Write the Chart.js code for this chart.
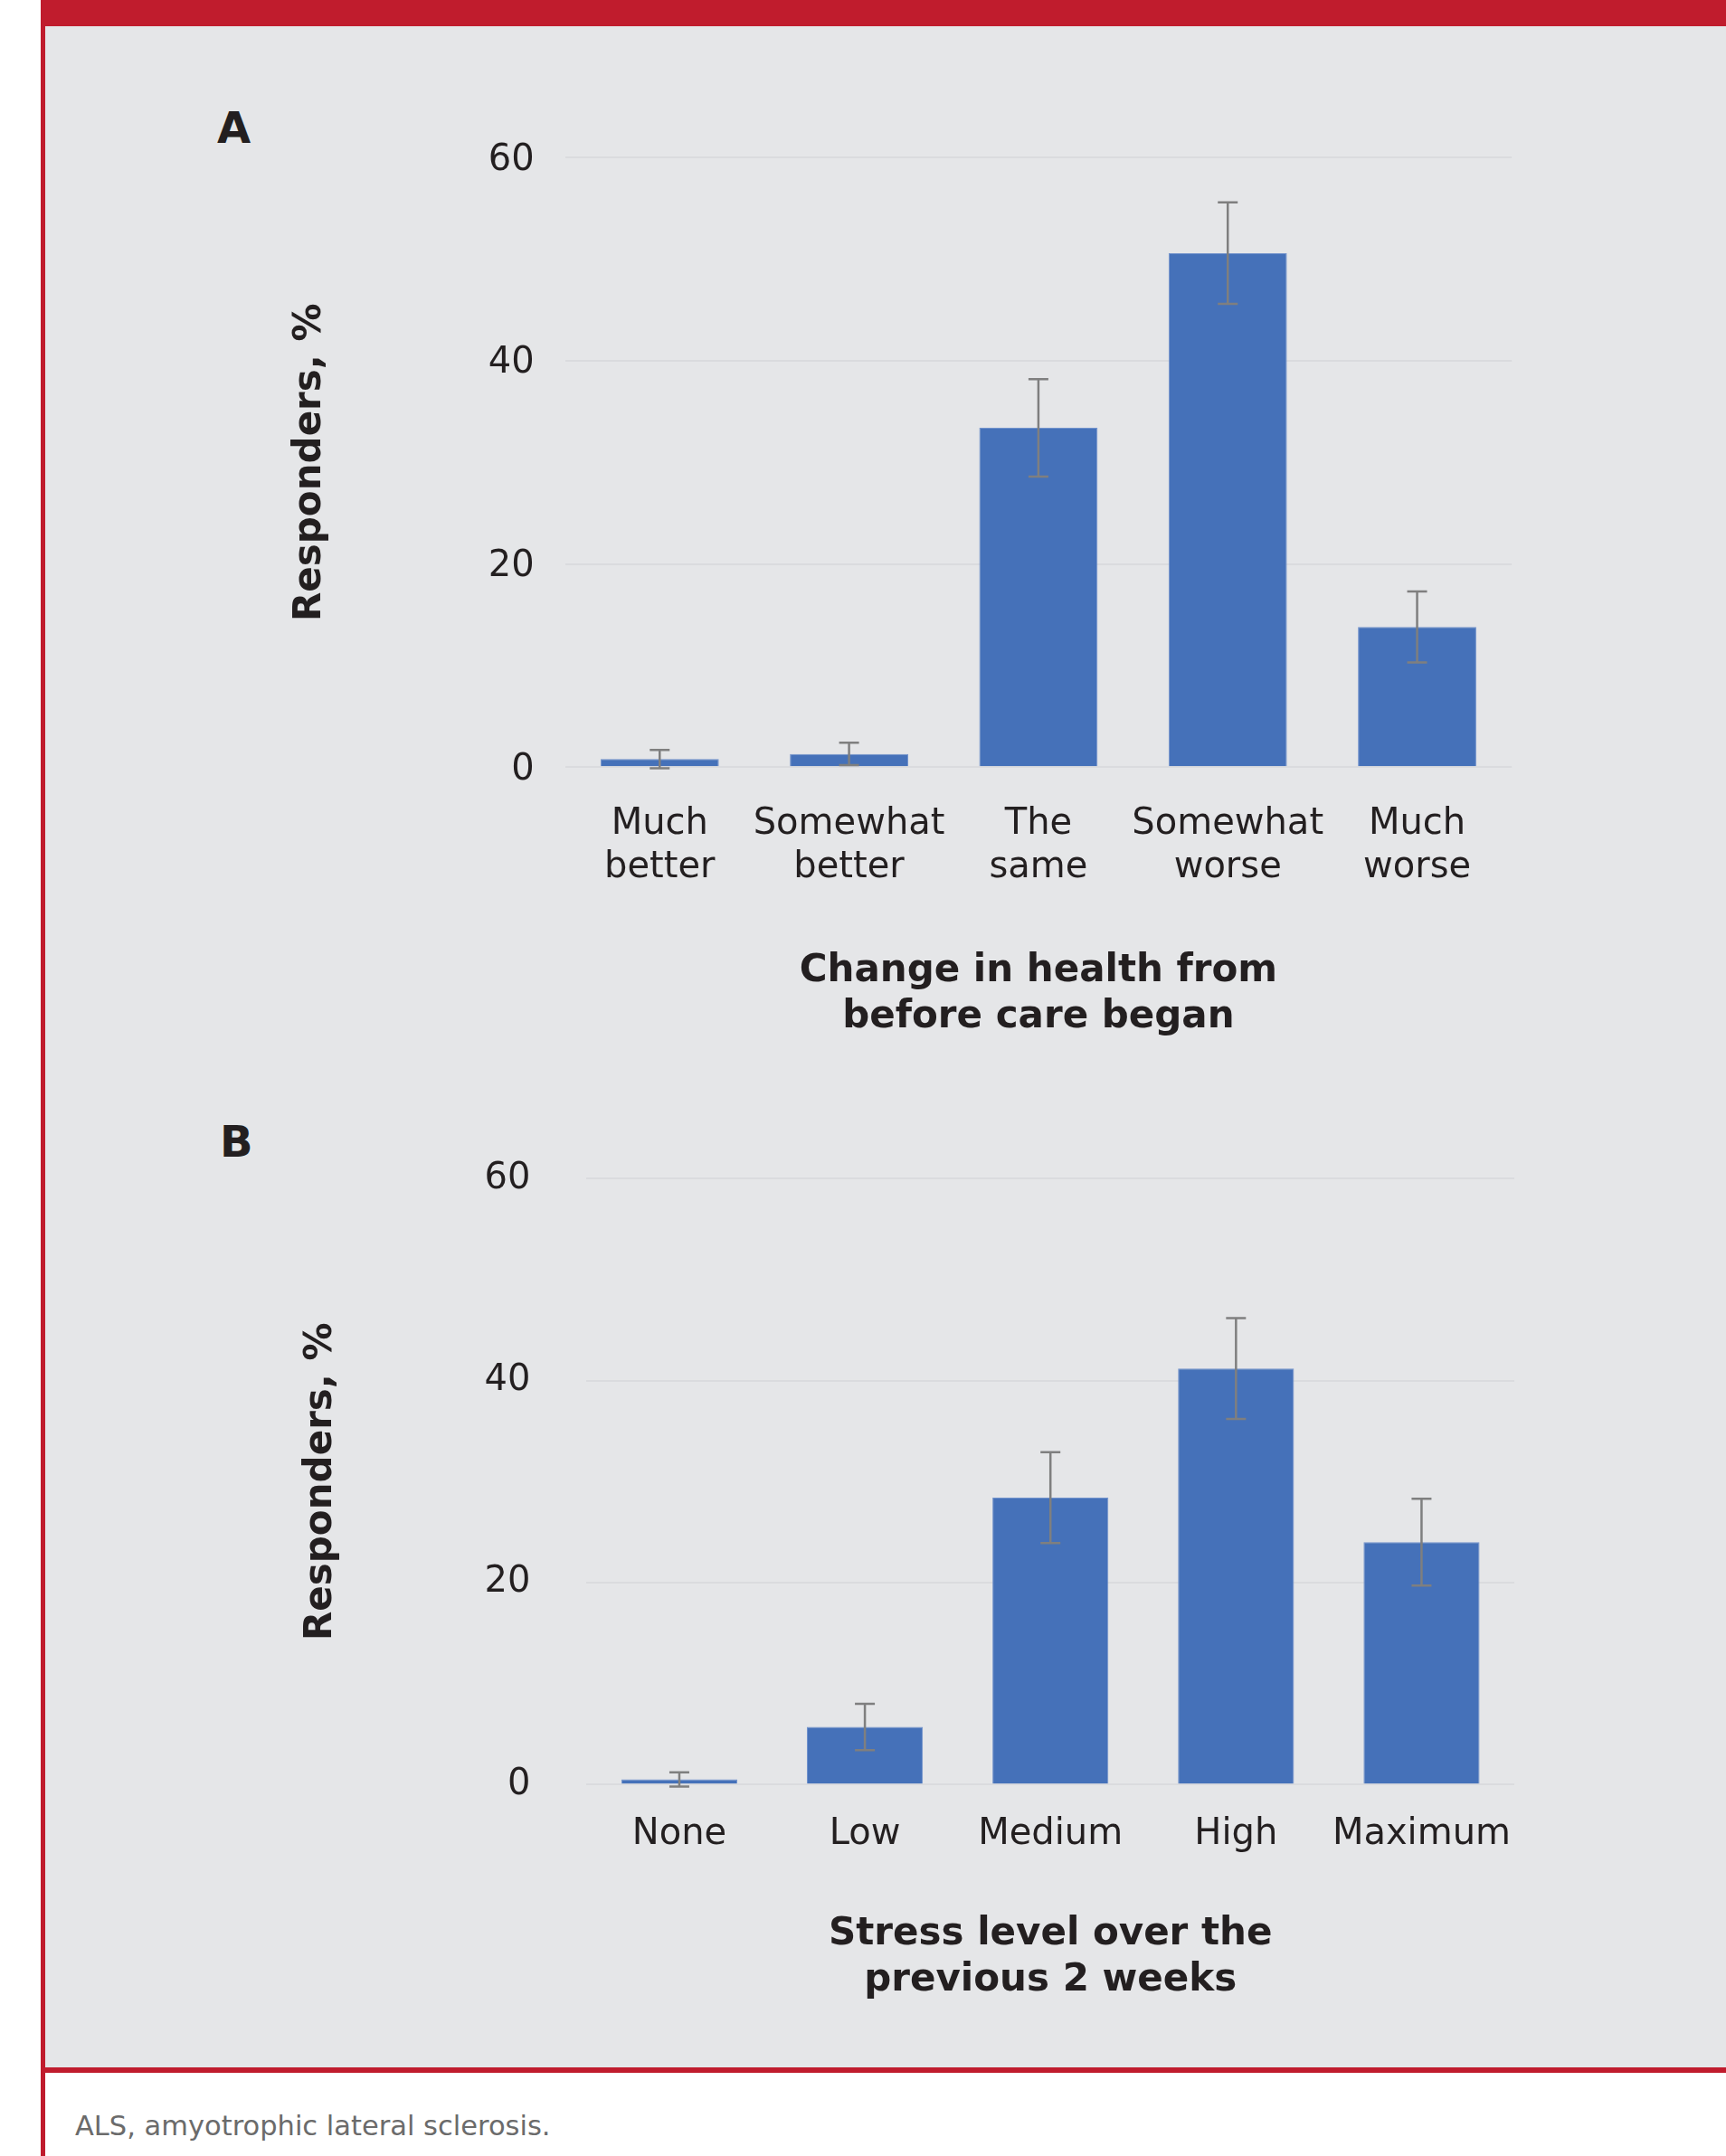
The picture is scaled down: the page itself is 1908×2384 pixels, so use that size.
<!DOCTYPE html>
<html>
<head>
<meta charset="utf-8">
<title>Responders by change in health and stress level</title>
<script src="https://cdn.jsdelivr.net/npm/chart.js@4.4.1/dist/chart.umd.min.js"></script>
<style>
  html, body { margin: 0; padding: 0; background: #fff; }
  body { position: relative; width: 1908px; height: 2384px; overflow: hidden; font-family: 'DejaVu Sans', Verdana, sans-serif; }
  .red { position: absolute; background: #c01c2d; }
  #panel { position: absolute; left: 50px; top: 29px; width: 1858px; height: 2257px; background: #e5e6e8; }
  .letter { position: absolute; font-weight: bold; font-size: 48px; line-height: 48px; color: #231f20; }
  canvas { position: absolute; left: 0; }
  #note { position: absolute; left: 83px; top: 2336px; font-size: 30.5px; line-height: 30px; color: #6b6b6b; white-space: nowrap; }
</style>
</head>
<body>
<div id="panel"></div>
<div class="red" style="left:45px; top:0; width:1863px; height:29px;"></div>
<div class="red" style="left:45px; top:0; width:5px; height:2384px;"></div>
<div class="red" style="left:45px; top:2286px; width:1863px; height:6px;"></div>

<div class="letter" style="left:240px; top:117px;">A</div>
<div class="letter" style="left:243px; top:1238px;">B</div>

<canvas id="chartA" width="1908" height="1180" style="top:0; width:1908px; height:1180px;"></canvas>
<canvas id="chartB" width="1908" height="1106" style="top:1180px; width:1908px; height:1106px;"></canvas>

<div id="note">ALS, amyotrophic lateral sclerosis.</div>

<script>
const healthLabels = [['Much', 'better'], ['Somewhat', 'better'], ['The', 'same'], ['Somewhat', 'worse'], ['Much', 'worse']];
const healthValues = [0.8, 1.3, 33.4, 50.6, 13.8];
const healthErrors = [0.9, 1.1, 4.8, 5.0, 3.5];

const stressLabels = ['None', 'Low', 'Medium', 'High', 'Maximum'];
const stressValues = [0.5, 5.7, 28.4, 41.2, 24.0];
const stressErrors = [0.7, 2.3, 4.5, 5.0, 4.3];

const yTicks = [0, 20, 40, 60];

const ink = '#231f20';
Chart.defaults.font.family = "'DejaVu Sans', Verdana, sans-serif";
Chart.defaults.color = ink;

// whiskers drawn on top of the bars, +/- the error of each value
const errorBars = {
    id: 'errorBars',
    afterDatasetsDraw(chart) {
        const ctx = chart.ctx;
        const y = chart.scales.y;
        const ds = chart.data.datasets[0];
        const cap = 11;
        ctx.save();
        ctx.strokeStyle = '#7f7f7f';
        ctx.lineWidth = 2.5;
        chart.getDatasetMeta(0).data.forEach(function (bar, i) {
            const hi = y.getPixelForValue(ds.data[i] + ds.errors[i]);
            const lo = y.getPixelForValue(ds.data[i] - ds.errors[i]);
            ctx.beginPath();
            ctx.moveTo(bar.x, hi);
            ctx.lineTo(bar.x, lo);
            ctx.moveTo(bar.x - cap, hi);
            ctx.lineTo(bar.x + cap, hi);
            ctx.moveTo(bar.x - cap, lo);
            ctx.lineTo(bar.x + cap, lo);
            ctx.stroke();
        });
        ctx.restore();
    }
};

function makeChart(id, labels, values, errors, xTitle, g) {
    return new Chart(document.getElementById(id), {
        type: 'bar',
        data: {
            labels: labels,
            datasets: [{
                data: values,
                errors: errors,
                backgroundColor: '#4571b9',
                borderColor: '#7393cc',
                borderWidth: 1,
                barPercentage: 0.625,
                categoryPercentage: 1
            }]
        },
        plugins: [errorBars],
        options: {
            responsive: false,
            animation: false,
            devicePixelRatio: 1,
            layout: { padding: { left: 280, top: g.top, right: g.right, bottom: 0 } },
            plugins: { legend: { display: false }, tooltip: { enabled: false } },
            scales: {
                x: {
                    grid: { display: false },
                    border: { display: false },
                    ticks: { padding: g.catPad, maxRotation: 0, autoSkip: false, color: ink,
                             font: { size: 40, lineHeight: 1.2 } },
                    title: { display: true, text: xTitle, color: ink,
                             font: { size: 42, weight: 'bold', lineHeight: 1.214 },
                             padding: { top: 0, bottom: g.titlePad } },
                    afterFit: function (s) { s.height = g.xHeight; }
                },
                y: {
                    min: 0,
                    max: 60,
                    afterBuildTicks: function (s) { s.ticks = yTicks.map(v => ({ value: v })); },
                    grid: { color: '#dadbde', lineWidth: 2, drawTicks: false },
                    border: { display: false },
                    ticks: { padding: g.tickPad, labelOffset: g.tickShift, color: ink, font: { size: 40 } },
                    title: { display: true, text: 'Responders, %', color: ink,
                             font: { size: 42, weight: 'bold', lineHeight: 1.2 },
                             padding: { top: g.yTitlePad, bottom: 0 } },
                    afterFit: function (s) { s.width = g.yWidth; }
                }
            }
        }
    });
}

window.chartA = makeChart('chartA', healthLabels, healthValues, healthErrors,
    ['Change in health from', 'before care began'],
    { top: 174.3, right: 236.8, yWidth: 344.6, xHeight: 331.7, yTitlePad: 37.8,
      tickPad: 34, tickShift: 3, catPad: 31.7, titlePad: 29 });

window.chartB = makeChart('chartB', stressLabels, stressValues, stressErrors,
    ['Stress level over the', 'previous 2 weeks'],
    { top: 123.3, right: 234, yWidth: 368.4, xHeight: 312.8, yTitlePad: 49.8,
      tickPad: 62, tickShift: 0, catPad: 23.8, titlePad: 70.9 });
</script>
</body>
</html>
